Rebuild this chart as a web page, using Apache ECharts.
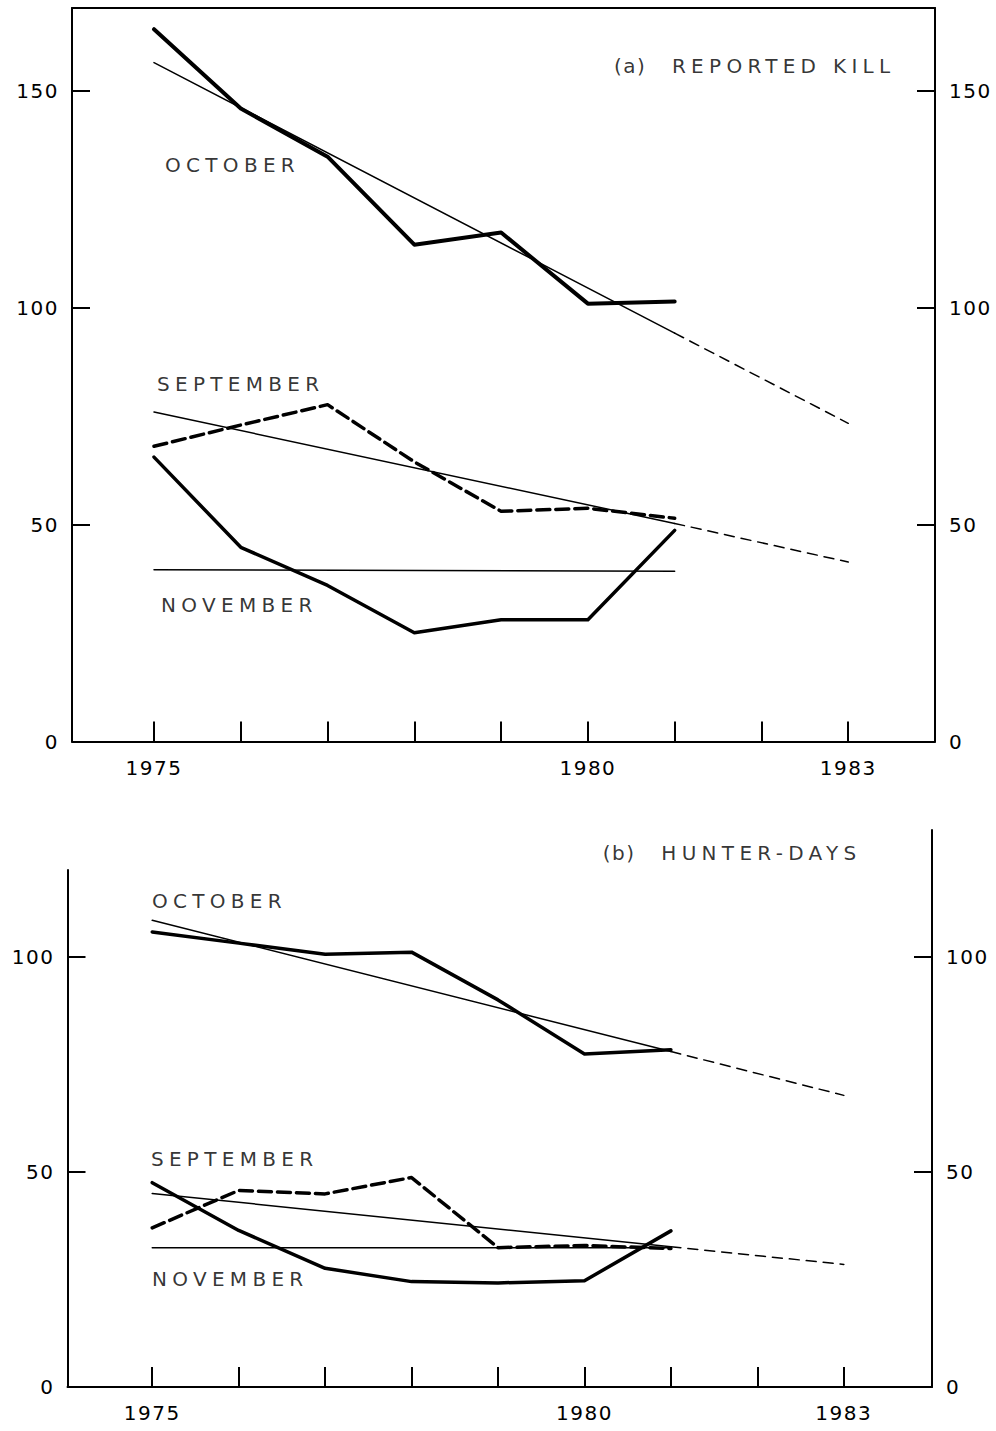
<!DOCTYPE html>
<html>
<head>
<meta charset="utf-8">
<script src="https://cdn.jsdelivr.net/npm/echarts@6/dist/echarts.min.js"></script>
<style>
html,body{margin:0;padding:0;background:#fff;}
#chart{width:996px;height:1431px;}
</style>
</head>
<body>
<div id="chart"></div>
<script>
// ---- data ----
const years = [1975, 1976, 1977, 1978, 1979, 1980, 1981];
const tickYears = [1975, 1976, 1977, 1978, 1979, 1980, 1981, 1982, 1983];
const labelYears = [1975, 1980, 1983];
const trendYears = [1975, 1981];
const projYears = [1981, 1983];

// (a) reported kill
const killOctober   = [164.3, 146.0, 134.9, 114.6, 117.4, 101.0, 101.5];
const killSeptember = [68.1, 73.0, 77.7, 64.5, 53.1, 53.8, 51.5];
const killNovember  = [65.6, 44.8, 36.0, 25.1, 28.1, 28.1, 48.7];
const killOctoberTrend = [156.6, 94.2];
const killOctoberProj  = [94.2, 73.4];
const killSeptemberTrend = [76.0, 50.3];
const killSeptemberProj  = [50.3, 41.4];
const killNovemberTrend  = [39.6, 39.3];
const killTicks = [0, 50, 100, 150];

// (b) hunter-days
const hdOctober   = [105.8, 103.2, 100.6, 101.1, 90.0, 77.4, 78.4];
const hdSeptember = [37.0, 45.7, 44.9, 48.7, 32.4, 32.9, 32.2];
const hdNovember  = [47.5, 36.4, 27.6, 24.5, 24.2, 24.7, 36.3];
const hdOctoberTrend = [108.5, 78.0];
const hdOctoberProj  = [78.0, 67.8];
const hdSeptemberTrend = [45.0, 32.6];
const hdSeptemberProj  = [32.6, 28.5];
const hdNovemberTrend  = [32.4, 32.4];
const hdTicks = [0, 50, 100];

// text annotations (anchored in data coordinates: left edge, vertical middle)
const killNotes = [
  {name: '(a)', value: [1980.30, 155.9]},
  {name: 'REPORTED KILL', value: [1980.968, 155.9]},
  {name: 'OCTOBER', value: [1975.127, 132.9]},
  {name: 'SEPTEMBER', value: [1975.035, 82.5]},
  {name: 'NOVEMBER', value: [1975.081, 31.5]}
];
const hdNotes = [
  {name: 'OCTOBER', value: [1974.997, 113.1]},
  {name: 'SEPTEMBER', value: [1974.985, 52.9]},
  {name: 'NOVEMBER', value: [1974.997, 25.0]}
];
const hdTitle = [
  {name: '(b)', value: [1980.211, 124.1]},
  {name: 'HUNTER-DAYS', value: [1980.889, 124.1]}
];

// ---- styling ----
const INK = '#000';
const FONT = 'DejaVu Sans';
const pairs = (xs, ys) => xs.map((x, i) => [x, ys[i]]);

function xAxisBottom(grid, min, max) {
  return {
    type: 'value', gridIndex: grid, position: 'bottom', min: min, max: max,
    axisLine: {show: true, onZero: false, lineStyle: {color: INK, width: 2}},
    axisTick: {show: true, inside: true, length: 20, customValues: tickYears, lineStyle: {color: INK, width: 2}},
    axisLabel: {show: true, customValues: labelYears, formatter: v => String(v), margin: 16, color: INK, fontSize: 20, fontFamily: FONT},
    splitLine: {show: false}
  };
}
function yAxisSide(grid, pos, max, ticks) {
  return {
    type: 'value', gridIndex: grid, position: pos, min: 0, max: max,
    axisLine: {show: true, onZero: false, lineStyle: {color: INK, width: 2}},
    axisTick: {show: true, inside: true, length: 18, customValues: ticks.filter(v => v > 0), lineStyle: {color: INK, width: 2}},
    axisLabel: {show: true, customValues: ticks, formatter: v => String(v), margin: pos === 'left' ? 13 : 14, color: INK, fontSize: 20, fontFamily: FONT},
    splitLine: {show: false}
  };
}
function lineSeries(xi, yi, xs, ys, width, dash) {
  return {
    type: 'line', xAxisIndex: xi, yAxisIndex: yi, data: pairs(xs, ys),
    symbol: 'none', silent: true, z: width > 2 ? 3 : 2,
    lineStyle: {color: INK, width: width, type: dash || 'solid', cap: 'round', join: 'round'}
  };
}
function noteSeries(xi, yi, notes) {
  return {
    type: 'scatter', xAxisIndex: xi, yAxisIndex: yi, data: notes, symbolSize: 0, silent: true, clip: false,
    itemStyle: {color: 'transparent'},
    label: {show: true, position: 'right', distance: 0, formatter: '{b}', color: INK, fontSize: 20, fontFamily: FONT}
  };
}

const option = {
  animation: false,
  backgroundColor: '#fff',
  grid: [
    {left: 72, right: 61, top: 8, height: 733.5},
    {left: 67.5, right: 64, top: 870, height: 517},
    {left: 67.5, right: 64, top: 830, height: 557}
  ],
  xAxis: [
    xAxisBottom(0, 1974.055, 1984),
    {type: 'value', gridIndex: 0, position: 'top', min: 1974.055, max: 1984,
     axisLine: {show: true, onZero: false, lineStyle: {color: INK, width: 2}},
     axisTick: {show: false}, axisLabel: {show: false}, splitLine: {show: false}},
    xAxisBottom(1, 1974.02, 1984.02),
    {type: 'value', gridIndex: 2, min: 1974.02, max: 1984.02, show: false}
  ],
  yAxis: [
    yAxisSide(0, 'left', 169.2, killTicks),
    yAxisSide(0, 'right', 169.2, killTicks),
    yAxisSide(1, 'left', 120.2, hdTicks),
    yAxisSide(2, 'right', 129.5, hdTicks)
  ],
  series: [
    // (a)
    lineSeries(0, 0, years, killOctober, 4),
    lineSeries(0, 0, years, killSeptember, 3.5, [13, 6]),
    lineSeries(0, 0, years, killNovember, 3.5),
    lineSeries(0, 0, trendYears, killOctoberTrend, 1.5),
    lineSeries(0, 0, projYears, killOctoberProj, 1.5, [10, 7]),
    lineSeries(0, 0, trendYears, killSeptemberTrend, 1.5),
    lineSeries(0, 0, projYears, killSeptemberProj, 1.5, [10, 7]),
    lineSeries(0, 0, trendYears, killNovemberTrend, 1.5),
    noteSeries(0, 0, killNotes),
    // (b)
    lineSeries(2, 2, years, hdOctober, 3.5),
    lineSeries(2, 2, years, hdSeptember, 3.5, [13, 6]),
    lineSeries(2, 2, years, hdNovember, 3.5),
    lineSeries(2, 2, trendYears, hdOctoberTrend, 1.5),
    lineSeries(2, 2, projYears, hdOctoberProj, 1.5, [10, 7]),
    lineSeries(2, 2, trendYears, hdSeptemberTrend, 1.5),
    lineSeries(2, 2, projYears, hdSeptemberProj, 1.5, [10, 7]),
    lineSeries(2, 2, trendYears, hdNovemberTrend, 1.5),
    noteSeries(2, 2, hdNotes),
    noteSeries(3, 3, hdTitle)
  ]
};

const chart = echarts.init(document.getElementById('chart'), null, {renderer: 'svg', width: 996, height: 1431});
function applySpacing() {
  document.querySelectorAll('#chart svg text').forEach(t => {
    const s = (t.textContent || '').trim();
    let sp = '5.3px';
    if (/^[0-9]+$/.test(s)) sp = '1.5px';
    else if (s.charAt(0) === '(') sp = '1.5px';
    t.setAttribute('letter-spacing', sp);
    t.style.letterSpacing = sp;
    t.style.whiteSpace = 'pre';
  });
}
chart.setOption(option);
applySpacing();
chart.on('finished', applySpacing);
</script>
</body>
</html>
